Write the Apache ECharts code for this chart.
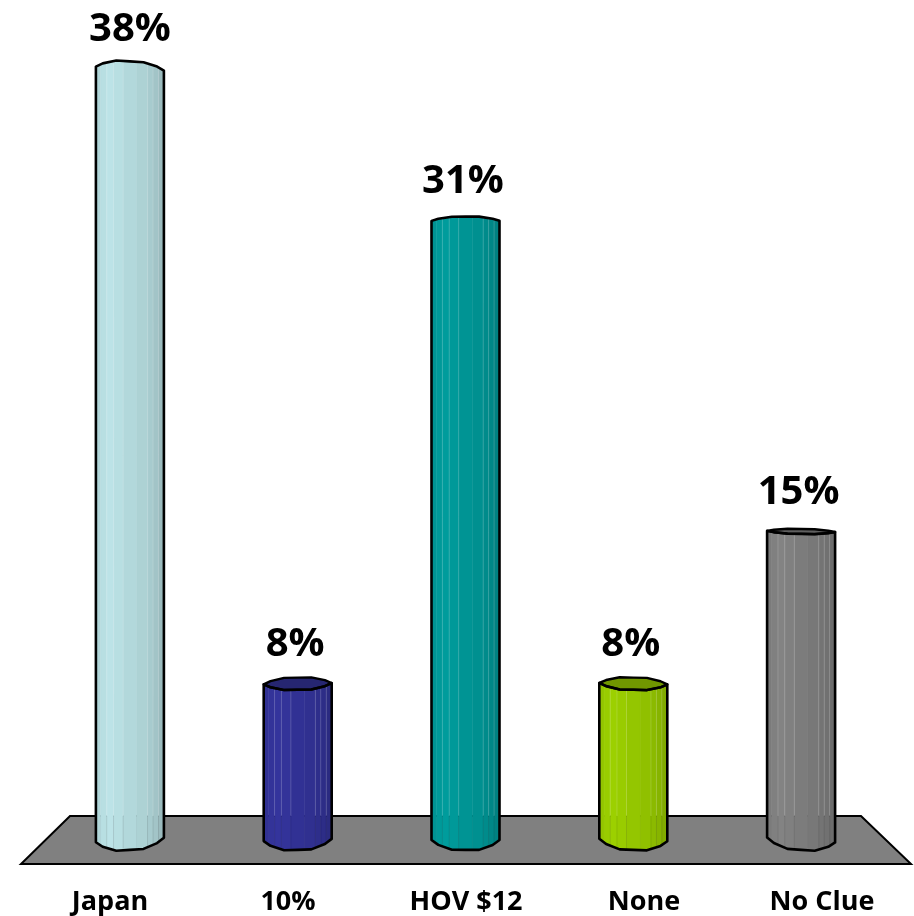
<!DOCTYPE html>
<html>
<head>
<meta charset="utf-8">
<style>html,body{margin:0;padding:0;background:#fff}#c{width:914px;height:916px}</style>
<script src="https://cdn.jsdelivr.net/npm/echarts@6/dist/echarts.min.js"></script>
</head>
<body>
<div id="c"></div>
<script>
var categories = ['Japan', '10%', 'HOV $12', 'None', 'No Clue'];
var values = [38, 7.7, 30.5, 7.7, 15.2];
var colors = ['#B8DFE2', '#333399', '#009999', '#99CC00', '#808080'];

var FONT = '"Open Sans", sans-serif';
var EYE_Y = 430, VIEW_X = 457, FLOOR_BACK = 816;
var FACETS = [0, .07, .16, .26, .40, .60, .76, .84, .92, 1];
var SHADE = [.96, 1.0, 1.02, 1.0, .97, .94, .91, .88, .84];
var STRIPES = [.16, .26, .40, .76, .84, .92];
var PROFILE_X = [0, .10, .30, .70, .90, 1];
var PROFILE_Y = [0, .5, 1, 1, .5, 0];
var HALF = 34;

function shade(hex, k) {
  var n = parseInt(hex.slice(1), 16);
  var c = [n >> 16, (n >> 8) & 255, n & 255].map(function (v) {
    return Math.min(255, Math.round(v * k));
  });
  return 'rgb(' + c.join(',') + ')';
}
function prof(f) {
  for (var i = 1; i < PROFILE_X.length; i++) {
    if (f <= PROFILE_X[i]) {
      var t = (f - PROFILE_X[i - 1]) / (PROFILE_X[i] - PROFILE_X[i - 1]);
      return PROFILE_Y[i - 1] + t * (PROFILE_Y[i] - PROFILE_Y[i - 1]);
    }
  }
  return 0;
}
// Edge point of the cylinder's ring at height y: near=+1 front edge, near=-1 back edge
function ringY(y, cx, f, near) {
  var b = (y - EYE_Y) * (y < EYE_Y ? 0.02 : 0.024);
  var tilt = (cx - VIEW_X) * (y - EYE_Y) * 3.4e-5;
  return y + near * b * prof(f) + (2 * f - 1) * tilt / 2;
}

function renderBar(params, api) {
  var idx = api.value(0), val = api.value(1);
  var top = api.coord([idx, val]), base = api.coord([idx, 0]);
  var cx = top[0], yT = top[1], yB = base[1];
  var x = function (f) { return cx - HALF + 2 * HALF * f; };
  var color = colors[params.dataIndex];
  var kids = [];

  for (var i = 0; i < SHADE.length; i++) {
    var a = FACETS[i], b = FACETS[i + 1];
    kids.push({
      type: 'polygon',
      shape: { points: [[x(a), ringY(yT, cx, a, 1)], [x(b), ringY(yT, cx, b, 1)], [x(b), ringY(yB, cx, b, 1)], [x(a), ringY(yB, cx, a, 1)]] },
      style: { fill: shade(color, SHADE[i]), stroke: shade(color, SHADE[i]), lineWidth: 0.5 }
    });
  }
  STRIPES.forEach(function (f) {
    var yt = ringY(yT, cx, f, 1);
    kids.push({ type: 'line', shape: { x1: x(f), y1: yt, x2: x(f), y2: FLOOR_BACK },
      style: { stroke: 'rgba(255,255,255,0.16)', lineWidth: 1 } });
    kids.push({ type: 'line', shape: { x1: x(f), y1: FLOOR_BACK, x2: x(f), y2: ringY(yB, cx, f, 1) },
      style: { stroke: 'rgba(0,0,0,0.08)', lineWidth: 1 } });
  });

  var pts = [], fs = [0, .10, .30, .5, .70, .90, 1], j;
  var capVisible = yT > EYE_Y;
  if (capVisible) {
    var cap = [];
    for (j = 0; j < fs.length; j++) cap.push([x(fs[j]), ringY(yT, cx, fs[j], 1)]);
    for (j = fs.length - 2; j > 0; j--) cap.push([x(fs[j]), ringY(yT, cx, fs[j], -1)]);
    kids.push({ type: 'polygon', shape: { points: cap },
      style: { fill: shade(color, 0.74), stroke: '#000', lineWidth: 2.4, lineJoin: 'round' } });
  }
  for (j = 0; j < fs.length; j++) pts.push([x(fs[j]), ringY(yT, cx, fs[j], 1)]);
  for (j = fs.length - 1; j >= 0; j--) pts.push([x(fs[j]), ringY(yB, cx, fs[j], 1)]);
  kids.push({ type: 'polygon', shape: { points: pts },
    style: { fill: 'none', stroke: '#000', lineWidth: 2.6, lineJoin: 'round' } });

  kids.push({ type: 'text', style: {
    text: Math.round(val) + '%', x: cx - (params.dataIndex === 0 ? 0 : 2.5), y: yT - 39,
    align: 'center', verticalAlign: 'middle', fill: '#000', font: 'bold 40px ' + FONT
  } });
  return { type: 'group', children: kids };
}

var chart = echarts.init(document.getElementById('c'), null, { renderer: 'canvas' });
chart.setOption({
  animation: false,
  backgroundColor: '#ffffff',
  grid: [
    { left: 46, right: 29, top: 28, bottom: 76 },
    { left: 21, right: 3, top: 863, height: 1 }
  ],
  xAxis: [
    { type: 'category', gridIndex: 0, data: categories, axisLine: { show: false }, axisTick: { show: false }, axisLabel: { show: false } },
    { type: 'category', gridIndex: 1, data: categories, axisLine: { show: false }, axisTick: { show: false },
      axisLabel: { show: true, interval: 0, margin: 26, fontFamily: FONT, fontWeight: 'bold', fontSize: 27, color: '#000' } }
  ],
  yAxis: [
    { type: 'value', gridIndex: 0, min: 0, max: 40, show: false },
    { type: 'value', gridIndex: 1, min: 0, max: 1, show: false }
  ],
  graphic: [{
    type: 'polygon', z: 0, silent: true,
    shape: { points: [[70, FLOOR_BACK], [861, FLOOR_BACK], [911, 864], [21, 864]] },
    style: { fill: '#808080', stroke: '#000', lineWidth: 2 }
  }],
  series: [{
    type: 'custom', xAxisIndex: 0, yAxisIndex: 0, z: 5, clip: false,
    renderItem: renderBar,
    encode: { x: 0, y: 1 },
    data: values.map(function (v, i) { return [i, v]; })
  }]
});
</script>
</body>
</html>
